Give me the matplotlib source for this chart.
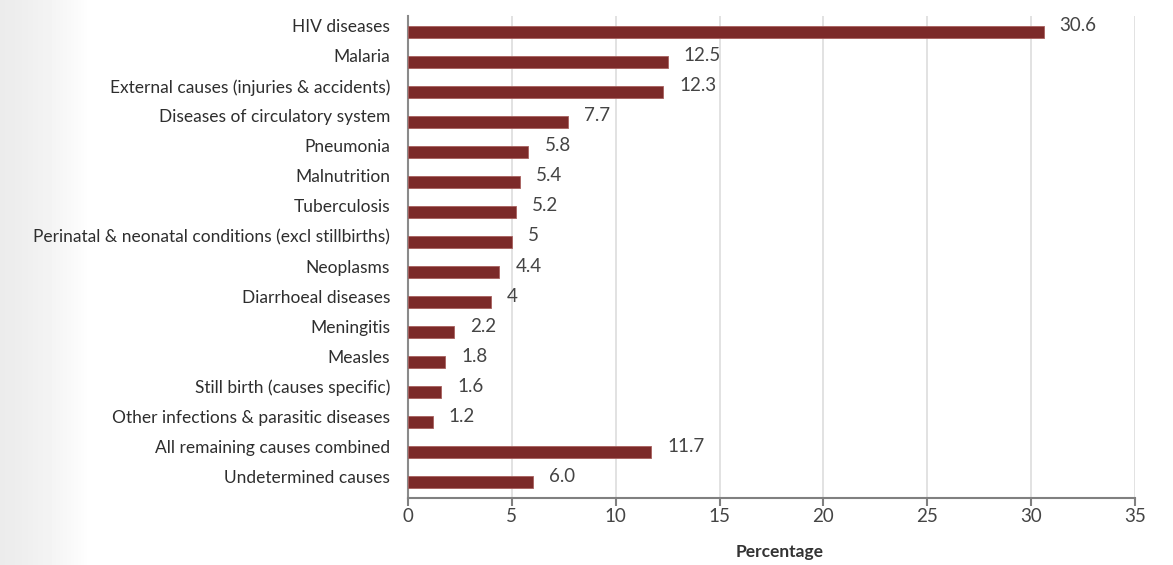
import numpy as np
import matplotlib
matplotlib.use("Agg")
import matplotlib.pyplot as plt

causes = [
    "HIV diseases",
    "Malaria",
    "External causes (injuries & accidents)",
    "Diseases of circulatory system",
    "Pneumonia",
    "Malnutrition",
    "Tuberculosis",
    "Perinatal & neonatal conditions (excl stillbirths)",
    "Neoplasms",
    "Diarrhoeal diseases",
    "Meningitis",
    "Measles",
    "Still birth (causes specific)",
    "Other infections & parasitic diseases",
    "All remaining causes combined",
    "Undetermined causes",
]
percentages = [30.6, 12.5, 12.3, 7.7, 5.8, 5.4, 5.2, 5.0, 4.4, 4.0, 2.2, 1.8, 1.6, 1.2, 11.7, 6.0]
value_labels = ["30.6", "12.5", "12.3", "7.7", "5.8", "5.4", "5.2", "5", "4.4", "4",
                "2.2", "1.8", "1.6", "1.2", "11.7", "6.0"]
x_ticks = [0, 5, 10, 15, 20, 25, 30, 35]

plt.rcParams["font.family"] = ["Lato", "DejaVu Sans"]

W, H = 1173, 565
fig = plt.figure(figsize=(W / 100, H / 100), dpi=100)

# soft grey band on the left edge of the page
bg = fig.add_axes([0, 0, 1, 1], zorder=-10)
edge = 90
xs = np.arange(W)
shade = np.where(xs < edge, 0.925 + (1 - 0.925) * (xs / edge) ** 1.5, 1.0)
grad = np.tile(shade, (2, 1))
bg.imshow(grad, cmap="gray", vmin=0, vmax=1, aspect="auto", extent=[0, 1, 0, 1])
bg.set_axis_off()

ax = fig.add_axes([408 / W, 1 - 498 / H, (1135 - 408) / W, (498 - 16) / H])
ax.patch.set_alpha(0)

n = len(causes)
rows = np.arange(n)
bar_color = "#7C2A29"
ax.barh(rows + 0.2, percentages, height=0.37, color=bar_color,
        edgecolor="#a8605e", linewidth=0.6, zorder=3)

for r, v, lab in zip(rows, percentages, value_labels):
    ax.annotate(lab, xy=(v, r), xytext=(11.5, 0), textcoords="offset points",
                va="center", ha="left", fontsize=13.5, color="#444444")

ax.set_xlim(0, 35)
ax.set_ylim(n - 0.267, -0.333)
ax.set_xticks(x_ticks)
ax.set_xticklabels([str(t) for t in x_ticks], fontsize=13.5, color="#444444")
ax.set_yticks(rows)
ax.set_yticklabels(causes, fontsize=12.5, color="#2e2e2e")
ax.tick_params(axis="y", length=0, pad=13)
ax.tick_params(axis="x", length=6, width=1.5, color="#808080", pad=1)

ax.grid(axis="x", color="#dddddd", linewidth=1.2, zorder=0)
ax.set_axisbelow(True)
for side in ("top", "right"):
    ax.spines[side].set_visible(False)
ax.spines["left"].set_color("#8a8a8a")
ax.spines["left"].set_linewidth(1.5)
ax.spines["bottom"].set_color("#808080")
ax.spines["bottom"].set_linewidth(1.5)

fig.text(780 / W, 1 - 552 / H, "Percentage", ha="center", va="center",
         fontsize=12.5, fontweight="bold", color="#333333")

fig.savefig("out.png", dpi=100)
